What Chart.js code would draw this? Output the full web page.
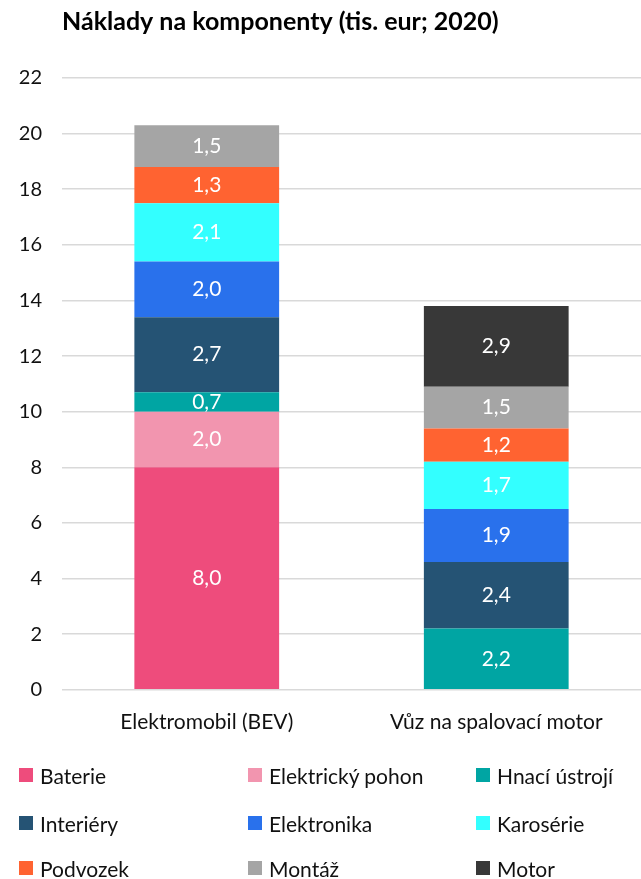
<!DOCTYPE html>
<html><head><meta charset="utf-8">
<script src="https://cdn.jsdelivr.net/npm/chart.js@4.4.1/dist/chart.umd.min.js"></script>
<style>
html,body{margin:0;padding:0;background:#fff;}
#wrap{position:relative;width:641px;height:879px;}
#c{position:absolute;left:0;top:0;}
#legend{position:absolute;left:0;top:760px;width:641px;font-family:Lato,"Open Sans",sans-serif;font-size:21px;color:#111;}
.li{position:absolute;display:flex;align-items:center;white-space:nowrap;}
.sw{width:14px;height:14px;margin-right:7px;}
</style></head>
<body><div id="wrap"><canvas id="c" width="641" height="879"></canvas><div id="legend"></div></div>
<script>
const categories = ["Elektromobil (BEV)", "Vůz na spalovací motor"];
const seriesNames = ["Baterie","Elektrický pohon","Hnací ústrojí","Interiéry","Elektronika","Karosérie","Podvozek","Montáž","Motor"];
const baterie = [8.0, null];
const elektrickyPohon = [2.0, null];
const hnaciUstroji = [0.7, 2.2];
const interiery = [2.7, 2.4];
const elektronika = [2.0, 1.9];
const karoserie = [2.1, 1.7];
const podvozek = [1.3, 1.2];
const montaz = [1.5, 1.5];
const motor = [null, 2.9];
const yTicks = [0,2,4,6,8,10,12,14,16,18,20,22];
const colors = ["#EE4C7C","#F295AF","#00A5A3","#255374","#2971EC","#33FFFF","#FF6331","#A5A5A5","#383838"];
const seriesData = [baterie, elektrickyPohon, hnaciUstroji, interiery, elektronika, karoserie, podvozek, montaz, motor];

const FONT = 'Lato, "Open Sans", sans-serif';

const labelPlugin = {
  id: 'barLabels',
  afterDatasetsDraw(chart) {
    const ctx = chart.ctx;
    ctx.save();
    ctx.font = '21px ' + FONT;
    ctx.fillStyle = '#fff';
    ctx.textAlign = 'center';
    ctx.textBaseline = 'middle';
    chart.data.datasets.forEach((ds, i) => {
      const meta = chart.getDatasetMeta(i);
      meta.data.forEach((bar, j) => {
        const v = ds.data[j];
        if (v == null) return;
        const y = (bar.y + bar.base) / 2;
        ctx.fillText(v.toFixed(1).replace('.', ','), bar.x, y);
      });
    });
    ctx.restore();
  }
};

new Chart(document.getElementById('c'), {
  type: 'bar',
  data: {
    labels: categories,
    datasets: seriesNames.map((n, i) => ({
      label: n, data: seriesData[i], backgroundColor: colors[i],
      borderWidth: 0, categoryPercentage: 0.5, barPercentage: 1.0
    }))
  },
  options: {
    responsive: false, animation: false,
    layout: { padding: { left: 0, right: 0, top: 7, bottom: 132 } },
    plugins: {
      legend: { display: false },
      tooltip: { enabled: false },
      title: {
        display: true, text: 'Náklady na komponenty (tis. eur; 2020)',
        align: 'start', fullSize: false,
        color: '#000', font: { family: FONT, size: 25, weight: 'bold' },
        padding: { top: 0, bottom: 41 }
      }
    },
    scales: {
      x: {
        stacked: true,
        grid: { display: false },
        border: { display: false },
        ticks: { color: '#111', font: { family: FONT, size: 21 }, padding: 12 }
      },
      y: {
        stacked: true, min: 0, max: 22,
        afterBuildTicks(s) { s.ticks = yTicks.map(v => ({ value: v })); },
        afterFit(s) { s.width = 62; },
        grid: { color: '#D9D9D9', lineWidth: 1.5, drawTicks: false },
        border: { display: false },
        ticks: { color: '#111', font: { family: FONT, size: 20 }, padding: 20 }
      }
    }
  },
  plugins: [labelPlugin]
});

const leg = document.getElementById('legend');
const cols = [19, 248, 476];
const rows = [15, 63, 108];
seriesNames.forEach((n, i) => {
  const d = document.createElement('div');
  d.className = 'li';
  d.style.left = cols[i % 3] + 'px';
  d.style.top = (rows[Math.floor(i / 3)] - 12) + 'px';
  d.style.height = '24px';
  d.innerHTML = '<span class="sw" style="background:' + colors[i] + '"></span><span>' + n + '</span>';
  leg.appendChild(d);
});
</script></body></html>
